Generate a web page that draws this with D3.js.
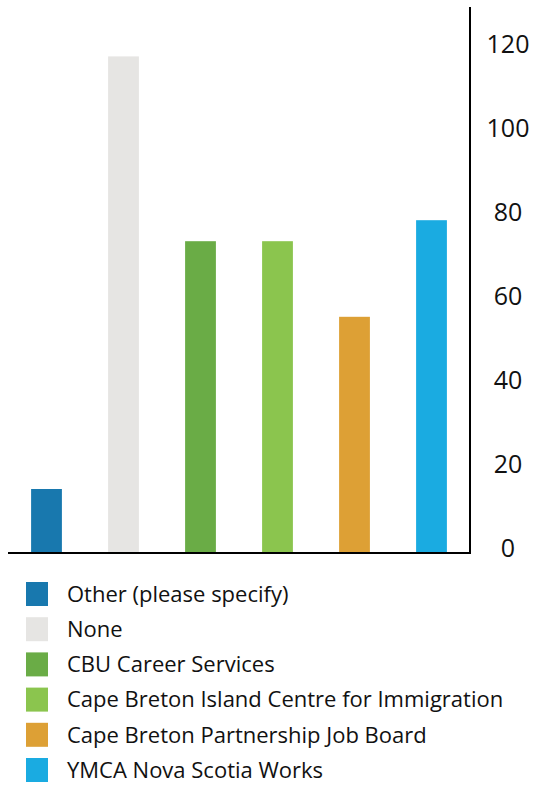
<!DOCTYPE html>
<html>
<head>
<meta charset="utf-8">
<script src="https://cdn.jsdelivr.net/npm/d3@7"></script>
<style>
    body { margin: 0; background: #fff; }
    text { font-family: "Open Sans", "Noto Sans", sans-serif; fill: #111; }
</style>
</head>
<body>
<svg id="chart"></svg>
<script>
const categories = [
    "Other (please specify)",
    "None",
    "CBU Career Services",
    "Cape Breton Island Centre for Immigration",
    "Cape Breton Partnership Job Board",
    "YMCA Nova Scotia Works"
];
const values = [15, 118, 74, 74, 56, 79];
const colors = ["#1878ae", "#e6e5e3", "#6aac46", "#8bc54e", "#dda035", "#1aabe1"];
const tickValues = [0, 20, 40, 60, 80, 100, 120];

const width = 537;
const height = 785;

const svg = d3.select("#chart")
    .attr("width", width)
    .attr("height", height);

const x = d3.scaleBand()
    .domain(categories)
    .range([8, 470])
    .paddingInner(0.6)
    .paddingOuter(0.3);

const y = d3.scaleLinear()
    .domain([0, 130])
    .range([552, 6]);

// bars
svg.append("g")
    .selectAll("rect")
    .data(categories)
    .enter().append("rect")
    .attr("x", d => x(d))
    .attr("y", (d, i) => y(values[i]))
    .attr("width", x.bandwidth())
    .attr("height", (d, i) => y(0) - y(values[i]))
    .attr("fill", (d, i) => colors[i]);

// baseline
svg.append("line")
    .attr("x1", 8)
    .attr("x2", 470)
    .attr("y1", y(0) + 1)
    .attr("y2", y(0) + 1)
    .attr("stroke", "#000")
    .attr("stroke-width", 2);

// right axis
const axis = svg.append("g")
    .attr("transform", `translate(470,0)`)
    .call(d3.axisRight(y).tickValues(tickValues).tickSize(0).tickPadding(0));

axis.select(".domain")
    .attr("stroke", "#000")
    .attr("stroke-width", 2)
    .attr("d", `M0,${y(130) + 1}V${y(0) + 2}`);

axis.selectAll(".tick text")
    .attr("x", 38)
    .attr("dy", "0.32em")
    .attr("transform", "translate(0,-4)")
    .attr("text-anchor", "middle")
    .style("font-family", "'Open Sans', 'Noto Sans', sans-serif")
    .style("font-size", "25px")
    .attr("fill", "#111");

// legend
const legend = svg.append("g")
    .selectAll("g")
    .data(categories)
    .enter().append("g")
    .attr("transform", (d, i) => `translate(26,${582 + i * 35.2})`);

legend.append("rect")
    .attr("width", 22)
    .attr("height", 24)
    .attr("fill", (d, i) => colors[i]);

legend.append("text")
    .attr("x", 41)
    .attr("y", 12)
    .attr("dy", "0.35em")
    .style("font-size", "22px")
    .text(d => d);
</script>
</body>
</html>
